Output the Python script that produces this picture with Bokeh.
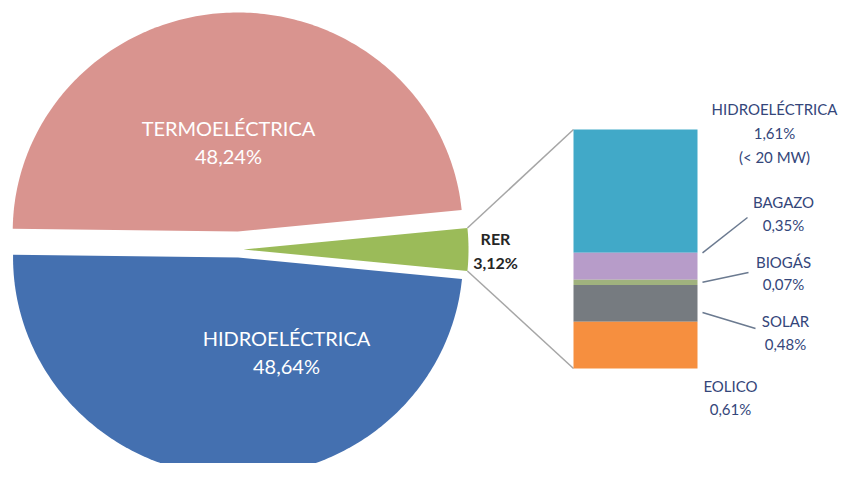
import numpy as np
from bokeh.plotting import figure
from bokeh.models import Range1d
from bokeh.embed import file_html
from bokeh.resources import INLINE
from bokeh.core.properties import value

# ---------------- data ----------------
main_labels = ["TERMOELÉCTRICA", "RER", "HIDROELÉCTRICA"]
main_values = [48.24, 3.12, 48.64]
main_texts = ["48,24%", "3,12%", "48,64%"]

rer_labels = ["HIDROELÉCTRICA", "BAGAZO", "BIOGÁS", "SOLAR", "EOLICO"]
rer_values = [1.61, 0.35, 0.07, 0.48, 0.61]
rer_texts = ["1,61%", "0,35%", "0,07%", "0,48%", "0,61%"]
rer_notes = ["(< 20 MW)", "", "", "", ""]

# ---------------- layout / style ----------------
W, H = 841, 463
FONT = "Lato"
main_colors = ["#D9948F", "#9BBB59", "#4470B0"]
rer_colors = ["#41A9C8", "#B79CC9", "#A0B27E", "#767B80", "#F68F3F"]

BASE_CX, BASE_CY = 238.0, 249.0
RX, RY = 225.0, 219.0
explode = [18.0, 5.0, 8.0]          # termo, rer, hidro

BAR_LEFT, BAR_RIGHT, BAR_TOP, BAR_HEIGHT = 573.0, 697.0, 129.0, 239.0

main_label_pos = [(228, 127, 155), (495, 238, 262), (286, 337, 365)]
right_label_pos = [(774, 108, 24), (783, 201, 23.5), (783, 261, 22),
                   (785, 320, 23.5), (730, 385, 23.5)]
leader_frac = [None, 0.0, 0.5, 0.75, None]
leader_end = [None, (747, 217), (748, 272), (755, 328), None]

p = figure(width=W, height=H, x_range=Range1d(0, W), y_range=Range1d(H, 0),
           output_backend="svg", toolbar_location=None, min_border=0,
           outline_line_color=None, background_fill_color="white")
p.axis.visible = False
p.grid.visible = False

# ---------------- pie (exploded, elliptical) ----------------
total = sum(main_values)
rer_i = main_labels.index("RER")
termo_i = main_labels.index("TERMOELÉCTRICA")
hidro_i = main_labels.index("HIDROELÉCTRICA")
a_rer = main_values[rer_i] / total * 2 * np.pi
a_termo = main_values[termo_i] / total * 2 * np.pi
spans = {}
spans[rer_i] = (-a_rer / 2, a_rer / 2)
spans[termo_i] = (a_rer / 2, a_rer / 2 + a_termo)
spans[hidro_i] = (a_rer / 2 + a_termo, 2 * np.pi - a_rer / 2)

xs, ys, centers = [], [], {}
for i in range(len(main_values)):
    t0, t1 = spans[i]
    mid = (t0 + t1) / 2
    cx = BASE_CX + explode[i] * np.cos(mid)
    cy = BASE_CY - explode[i] * np.sin(mid)
    centers[i] = (cx, cy)
    t = np.linspace(t0, t1, 200)
    xs.append([cx] + list(cx + RX * np.cos(t)))
    ys.append([cy] + list(cy - RY * np.sin(t)))
p.patches(xs, ys, fill_color=main_colors, line_color=None)

# connector lines from RER slice to the bar
gcx, gcy = centers[rer_i]
t0, t1 = spans[rer_i]
bar_scale = BAR_HEIGHT / sum(rer_values)
p.segment(x0=[gcx + RX * np.cos(t1), gcx + RX * np.cos(t0)],
          y0=[gcy - RY * np.sin(t1), gcy - RY * np.sin(t0)],
          x1=[BAR_LEFT, BAR_LEFT],
          y1=[BAR_TOP, BAR_TOP + sum(rer_values) * bar_scale],
          line_color="#A6A6A6", line_width=1.5)

# ---------------- bar of RER ----------------
cum = np.cumsum([0] + rer_values)
tops = BAR_TOP + cum[:-1] * bar_scale
bots = BAR_TOP + cum[1:] * bar_scale
p.quad(left=BAR_LEFT, right=BAR_RIGHT, top=tops, bottom=bots,
       fill_color=rer_colors, line_color=None)

# leader lines
lx0, ly0, lx1, ly1 = [], [], [], []
for i, f in enumerate(leader_frac):
    if f is None:
        continue
    lx0.append(BAR_RIGHT + 5)
    ly0.append(tops[i] + f * (bots[i] - tops[i]))
    lx1.append(leader_end[i][0])
    ly1.append(leader_end[i][1])
p.segment(lx0, ly0, lx1, ly1, line_color="#6B7A90", line_width=1.5)

# ---------------- labels ----------------
for i, (x, y1, y2) in enumerate(main_label_pos):
    if i == rer_i:
        col, size, style = "#262626", "16px", "bold"
    else:
        col, size, style = "white", "20px", "normal"
    p.text(x=[x, x], y=[y1, y2], text=[main_labels[i], main_texts[i]],
           text_align="center", text_baseline="middle", text_color=col,
           text_font=value(FONT), text_font_size=size, text_font_style=style)

for i, (x, y, dy) in enumerate(right_label_pos):
    lines = [rer_labels[i], rer_texts[i]] + ([rer_notes[i]] if rer_notes[i] else [])
    p.text(x=[x] * len(lines), y=[y + k * dy for k in range(len(lines))], text=lines,
           text_align="center", text_baseline="middle", text_color="#34467A",
           text_font=value(FONT), text_font_size="15px")

open("out.html", "w").write(file_html(p, INLINE))
